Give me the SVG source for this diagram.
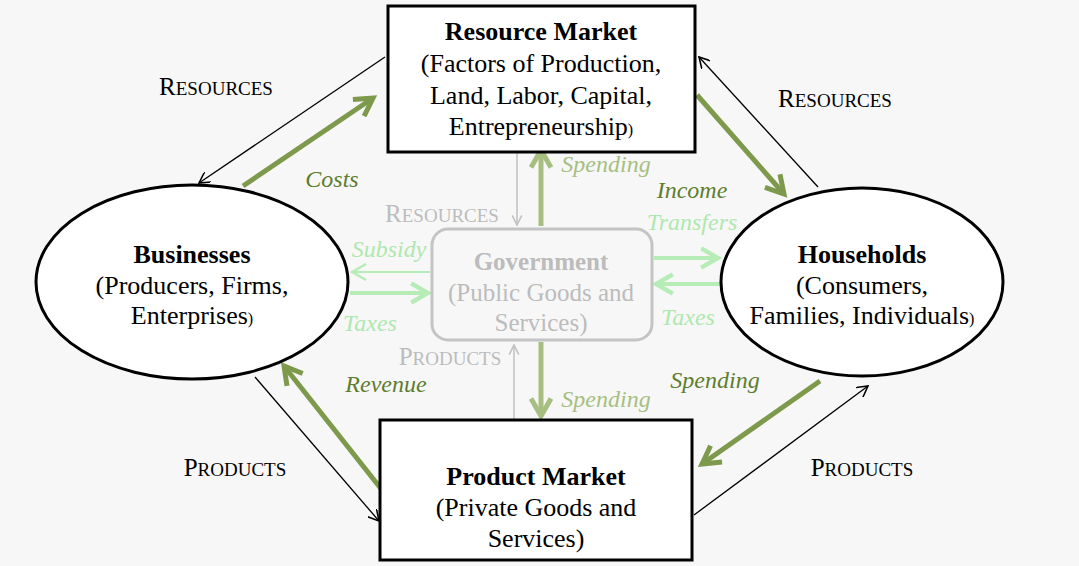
<svg xmlns="http://www.w3.org/2000/svg" width="1079" height="566" viewBox="0 0 1079 566">
<style>
text{font-family:"Liberation Serif","Times New Roman",serif;text-anchor:middle}
.t{font-size:26px;fill:#000}
.b{font-weight:bold}
.sc{font-size:25px;fill:#000}
.sc tspan{font-size:19px}
.lbl{font-size:24px;font-style:italic;fill:#5e7d2e}
.lt{font-size:24px;font-style:italic;fill:#aee8ae}
.g{font-size:25px;fill:#bcbcbc}
.blk{stroke:#000;stroke-width:1.3;fill:none}
.grn{stroke:#7d9a4c;stroke-width:5;fill:none}
.lgt{stroke:#b6ecb6;stroke-width:4;fill:none}
.lgt2{stroke:#b6ecb6;stroke-width:2;fill:none}
.gry{stroke:#c0c0c0;stroke-width:1.5;fill:none}
.ggr{stroke:#a6bf80;stroke-width:5;fill:none}
</style>
<defs>
<marker id="ab" viewBox="0 0 10 10" refX="9" refY="5" markerWidth="12" markerHeight="12" markerUnits="userSpaceOnUse" orient="auto"><path d="M0,0 L9,5 L0,10" fill="none" stroke="#000" stroke-width="1.3"/></marker>
<marker id="ag" viewBox="0 0 10 10" refX="8" refY="5" markerWidth="5" markerHeight="5" orient="auto"><path d="M1,1 L8,5 L1,9" fill="none" stroke="#7d9a4c" stroke-width="2"/></marker>
<marker id="agg" viewBox="0 0 10 10" refX="8" refY="5" markerWidth="5" markerHeight="5" orient="auto"><path d="M1,1 L8,5 L1,9" fill="none" stroke="#a6bf80" stroke-width="2"/></marker>
<marker id="al" viewBox="0 0 10 10" refX="8" refY="5" markerWidth="6" markerHeight="6" orient="auto"><path d="M1,1 L8,5 L1,9" fill="none" stroke="#b6ecb6" stroke-width="1.8"/></marker>
<marker id="al2" viewBox="0 0 10 10" refX="8" refY="5" markerWidth="10" markerHeight="10" orient="auto"><path d="M1,1 L8,5 L1,9" fill="none" stroke="#b6ecb6" stroke-width="1.2"/></marker>
<marker id="ay" viewBox="0 0 10 10" refX="9" refY="5" markerWidth="8" markerHeight="8" orient="auto"><path d="M1,1 L9,5 L1,9" fill="none" stroke="#c0c0c0" stroke-width="1.3"/></marker>
</defs>
<rect width="1079" height="566" fill="#f7f7f7"/>
<g id="connectors">
<line class="blk" x1="385" y1="57" x2="199" y2="183" marker-end="url(#ab)"/>
<line class="grn" x1="243" y1="186" x2="373" y2="98" marker-end="url(#ag)"/>
<line class="blk" x1="818" y1="187" x2="699" y2="57" marker-end="url(#ab)"/>
<line class="grn" x1="697" y1="95" x2="784" y2="194" marker-end="url(#ag)"/>
<line class="blk" x1="255" y1="377" x2="379" y2="521" marker-end="url(#ab)"/>
<line class="grn" x1="382" y1="490" x2="284" y2="366" marker-end="url(#ag)"/>
<line class="blk" x1="694" y1="515" x2="868" y2="386" marker-end="url(#ab)"/>
<line class="grn" x1="820" y1="381" x2="702" y2="464" marker-end="url(#ag)"/>
<line class="gry" x1="517" y1="148" x2="517" y2="225" marker-end="url(#ay)"/>
<line class="ggr" x1="541" y1="226" x2="541" y2="150" marker-end="url(#agg)"/>
<line class="gry" x1="514" y1="425" x2="514" y2="345" marker-end="url(#ay)"/>
<line class="ggr" x1="541" y1="342" x2="541" y2="416" marker-end="url(#agg)"/>
<line class="lgt2" x1="430" y1="272" x2="352" y2="272" marker-end="url(#al2)"/>
<line class="lgt" x1="350" y1="293" x2="428" y2="293" marker-end="url(#al)"/>
<line class="lgt" x1="654" y1="258" x2="718" y2="258" marker-end="url(#al)"/>
<line class="lgt" x1="722" y1="284" x2="656" y2="284" marker-end="url(#al)"/>
</g>
<g id="resource-market">
<rect x="388" y="6" width="307" height="146" fill="#fff" stroke="#000" stroke-width="3"/>
<text class="t b" x="541" y="40">Resource Market</text>
<text class="t" x="541" y="72">(Factors of Production,</text>
<text class="t" x="541" y="104">Land, Labor, Capital,</text>
<text class="t" x="541" y="135">Entrepreneurship<tspan font-size="16">)</tspan></text>
</g>
<g id="product-market">
<rect x="380" y="420" width="312" height="140" fill="#fff" stroke="#000" stroke-width="3"/>
<text class="t b" x="536" y="485">Product Market</text>
<text class="t" x="536" y="516">(Private Goods and</text>
<text class="t" x="536" y="547">Services)</text>
</g>
<g id="businesses">
<ellipse cx="192" cy="282" rx="156" ry="97" fill="#fff" stroke="#000" stroke-width="3"/>
<text class="t b" x="192" y="263">Businesses</text>
<text class="t" x="192" y="294">(Producers, Firms,</text>
<text class="t" x="192" y="324">Enterprises<tspan font-size="16">)</tspan></text>
</g>
<g id="households">
<ellipse cx="862" cy="282" rx="141" ry="94" fill="#fff" stroke="#000" stroke-width="3"/>
<text class="t b" x="862" y="263">Households</text>
<text class="t" x="862" y="294">(Consumers,</text>
<text class="t" x="862" y="324">Families, Individuals<tspan font-size="16">)</tspan></text>
</g>
<g id="government">
<rect x="432" y="229" width="220" height="111" rx="16" fill="none" stroke="#c4c4c4" stroke-width="3"/>
<text class="g b" x="541" y="270">Government</text>
<text class="g" x="541" y="301">(Public Goods and</text>
<text class="g" x="541" y="331">Services)</text>
</g>
<g id="labels">
<text class="sc" x="216" y="95">R<tspan>ESOURCES</tspan></text>
<text class="sc" x="835" y="107">R<tspan>ESOURCES</tspan></text>
<text class="sc" x="235" y="476">P<tspan>RODUCTS</tspan></text>
<text class="sc" x="862" y="476">P<tspan>RODUCTS</tspan></text>
<text class="sc" x="442" y="222" style="fill:#bcbcbc">R<tspan>ESOURCES</tspan></text>
<text class="sc" x="450" y="365" style="fill:#bcbcbc">P<tspan>RODUCTS</tspan></text>
<text class="lbl" x="332" y="187">Costs</text>
<text class="lbl" x="692" y="198">Income</text>
<text class="lbl" x="386" y="392">Revenue</text>
<text class="lbl" x="715" y="388">Spending</text>
<text class="lt" x="606" y="172" style="fill:#a6bf80">Spending</text>
<text class="lt" x="606" y="407" style="fill:#a6bf80">Spending</text>
<text class="lt" x="389" y="257">Subsidy</text>
<text class="lt" x="370" y="331">Taxes</text>
<text class="lt" x="692" y="230">Transfers</text>
<text class="lt" x="688" y="325">Taxes</text>
</g>
</svg>
